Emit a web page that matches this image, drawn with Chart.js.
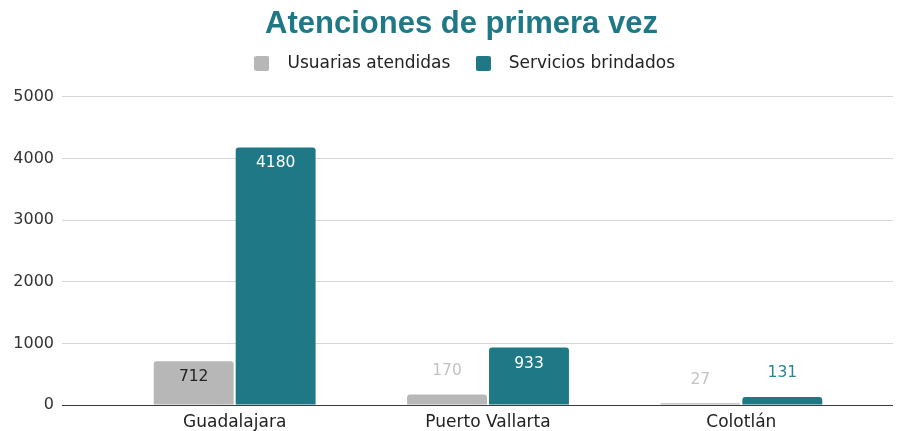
<!DOCTYPE html>
<html>
<head>
<meta charset="utf-8">
<script src="https://cdn.jsdelivr.net/npm/chart.js@4/dist/chart.umd.min.js"></script>
<style>
  html, body { margin: 0; padding: 0; background: #fff; }
  #wrap { position: relative; width: 904px; height: 431px; }
</style>
</head>
<body>
<div id="wrap"><canvas id="chart_atenciones"></canvas></div>
<script>
var categories = ['Guadalajara', 'Puerto Vallarta', 'Colotlán'];
var usuariasAtendidas = [712, 170, 27];
var serviciosBrindados = [4180, 933, 131];
var yTicks = [0, 1000, 2000, 3000, 4000, 5000];

var GRAY = '#b7b7b7';
var TEAL = '#1e7886';
var GRID = '#d6d6d6';
var BASE = '#3a3a3a';

// small rounded square used as the legend marker
function legendSwatch(color) {
    var c = document.createElement('canvas');
    c.width = 15;
    c.height = 15;
    var g = c.getContext('2d');
    g.fillStyle = color;
    g.beginPath();
    g.roundRect(0, 0, 15, 15, 2);
    g.fill();
    return c;
}

// value labels: inside the bar top when there is room, else above in series colour
var valueLabels = {
    id: 'valueLabels',
    afterDatasetsDraw: function (chart) {
        var ctx = chart.ctx;
        ctx.save();
        ctx.font = '15.5px "DejaVu Sans"';
        ctx.textAlign = 'center';
        ctx.textBaseline = 'middle';
        chart.data.datasets.forEach(function (ds, i) {
            var meta = chart.getDatasetMeta(i);
            meta.data.forEach(function (bar, j) {
                var h = bar.base - bar.y;
                var y, color;
                if (h >= 30) {
                    y = bar.y + 16;
                    color = ds.insideLabelColor;
                } else {
                    y = bar.y - 23.5;
                    color = ds.outsideLabelColor;
                }
                ctx.fillStyle = color;
                ctx.fillText(String(ds.data[j]), bar.x, y);
            });
        });
        ctx.restore();
    }
};

// extra room under the legend, and title/legend nudged a little right like the original
function shiftDraw(box, dx) {
    var draw = box.draw;
    box.draw = function () {
        var ctx = this.ctx;
        ctx.save();
        ctx.translate(dx, 0);
        draw.apply(this, arguments);
        ctx.restore();
    };
}
var headerTweaks = {
    id: 'headerTweaks',
    afterInit: function (chart) {
        var fit = chart.legend.fit;
        chart.legend.fit = function () {
            fit.call(this);
            this.height += 15;
        };
        shiftDraw(chart.legend, 8);
        shiftDraw(chart.titleBlock, 9.5);
    }
};

function gridColor(c) {
    return c.tick && c.tick.value === 0 ? BASE : GRID;
}

function fixedTicks(s) {
    s.ticks = yTicks.map(function (v) { return { value: v }; });
}

var chart_atenciones = new Chart(document.getElementById('chart_atenciones'), {
    type: 'bar',
    data: {
        labels: categories,
        datasets: [
            {
                label: 'Usuarias atendidas',
                data: usuariasAtendidas,
                backgroundColor: GRAY,
                borderRadius: 3,
                borderSkipped: 'start',
                categoryPercentage: 0.647,
                barPercentage: 0.975,
                insideLabelColor: '#222222',
                outsideLabelColor: '#c2c2c2'
            },
            {
                label: 'Servicios brindados',
                data: serviciosBrindados,
                backgroundColor: TEAL,
                borderRadius: 3,
                borderSkipped: 'start',
                categoryPercentage: 0.647,
                barPercentage: 0.975,
                insideLabelColor: '#ffffff',
                outsideLabelColor: '#2b8593'
            }
        ]
    },
    options: {
        animation: false,
        responsive: true,
        maintainAspectRatio: false,
        layout: { padding: 0 },
        plugins: {
            title: {
                display: true,
                text: 'Atenciones de primera vez',
                color: TEAL,
                font: { family: '"Liberation Sans", Arial', size: 31, weight: 'bold', lineHeight: 0.9 },
                padding: { top: 11, bottom: 0 }
            },
            legend: {
                display: true,
                labels: {
                    usePointStyle: true,
                    pointStyleWidth: 34,
                    boxHeight: 15,
                    padding: 16,
                    color: '#222222',
                    font: { family: '"DejaVu Sans"', size: 17 },
                    generateLabels: function (chart) {
                        var items = Chart.defaults.plugins.legend.labels.generateLabels(chart);
                        items.forEach(function (it) {
                            it.pointStyle = legendSwatch(chart.data.datasets[it.datasetIndex].backgroundColor);
                        });
                        return items;
                    }
                }
            },
            tooltip: { enabled: false }
        },
        scales: {
            x: {
                afterFit: function (s) { s.height = 26; },
                grid: { display: false, drawTicks: false },
                border: { display: true, color: BASE, width: 1 },
                ticks: {
                    color: '#222222',
                    padding: 7,
                    font: { family: '"DejaVu Sans"', size: 17 }
                }
            },
            y: {
                min: 0,
                max: 5000,
                afterBuildTicks: fixedTicks,
                afterFit: function (s) { s.width = 108; },
                border: { display: false },
                grid: { color: gridColor, tickColor: gridColor, tickLength: 46 },
                ticks: {
                    color: '#333333',
                    padding: 8,
                    font: { family: '"DejaVu Sans"', size: 16 },
                    callback: function (v) { return String(v); }
                }
            },
            y2: {
                position: 'right',
                min: 0,
                max: 5000,
                afterBuildTicks: fixedTicks,
                afterFit: function (s) { s.width = 36; },
                border: { display: false },
                grid: { drawOnChartArea: false, color: gridColor, tickColor: gridColor, tickLength: 25 },
                ticks: { display: false }
            }
        }
    },
    plugins: [valueLabels, headerTweaks, {
        id: 'whiteBg',
        beforeDraw: function (chart) {
            var ctx = chart.canvas.getContext('2d');
            ctx.save();
            ctx.globalCompositeOperation = 'destination-over';
            ctx.fillStyle = 'white';
            ctx.fillRect(0, 0, chart.canvas.width, chart.canvas.height);
            ctx.restore();
        }
    }]
});
</script>
</body>
</html>
